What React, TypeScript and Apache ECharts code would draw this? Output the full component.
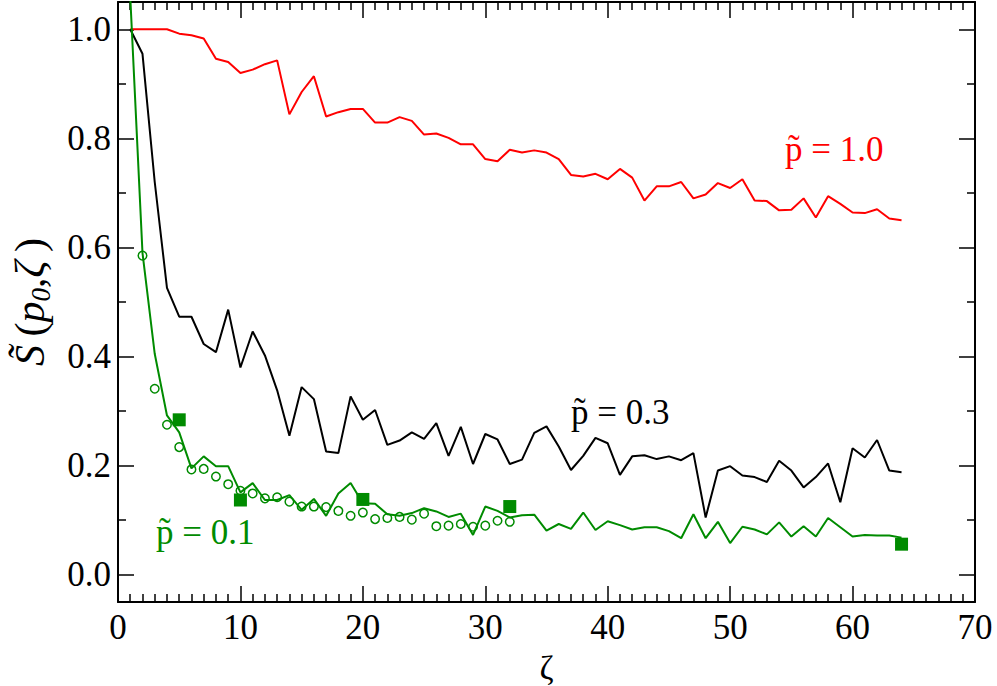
import React, { useEffect, useRef } from "react";
import * as echarts from "echarts";

const zeta = [
  1, 2, 3, 4, 5, 6, 7, 8, 9, 10, 11, 12, 13, 14, 15, 16, 17, 18, 19, 20, 21, 22,
  23, 24, 25, 26, 27, 28, 29, 30, 31, 32, 33, 34, 35, 36, 37, 38, 39, 40, 41, 42,
  43, 44, 45, 46, 47, 48, 49, 50, 51, 52, 53, 54, 55, 56, 57, 58, 59, 60, 61, 62,
  63, 64,
];

// p~ = 1.0 (red)
const sRed = [
  1.0, 1.0, 1.0, 1.0, 0.992, 0.989, 0.983, 0.946, 0.94, 0.92, 0.926, 0.936, 0.943,
  0.844, 0.885, 0.914, 0.84, 0.848, 0.854, 0.854, 0.829, 0.829, 0.839, 0.832,
  0.807, 0.809, 0.801, 0.789, 0.789, 0.762, 0.758, 0.779, 0.774, 0.778, 0.774,
  0.762, 0.733, 0.73, 0.735, 0.725, 0.744, 0.728, 0.686, 0.712, 0.712, 0.72, 0.69,
  0.697, 0.718, 0.709, 0.725, 0.686, 0.685, 0.668, 0.669, 0.69, 0.655, 0.694,
  0.68, 0.664, 0.663, 0.67, 0.653, 0.65,
];

// p~ = 0.3 (black)
const sBlack = [
  1.0, 0.955, 0.72, 0.526, 0.473, 0.473, 0.423, 0.408, 0.486, 0.38, 0.446, 0.402,
  0.338, 0.255, 0.344, 0.322, 0.226, 0.223, 0.327, 0.284, 0.302, 0.238, 0.246,
  0.261, 0.249, 0.278, 0.218, 0.271, 0.203, 0.258, 0.248, 0.203, 0.211, 0.26,
  0.272, 0.235, 0.192, 0.218, 0.251, 0.241, 0.183, 0.217, 0.219, 0.212, 0.217,
  0.21, 0.223, 0.105, 0.191, 0.199, 0.182, 0.179, 0.17, 0.209, 0.191, 0.16, 0.179,
  0.204, 0.133, 0.232, 0.215, 0.247, 0.191, 0.188,
];

// p~ = 0.1 (green line)
const sGreen = [
  1.06, 0.59, 0.405, 0.292, 0.261, 0.195, 0.217, 0.199, 0.199, 0.151, 0.168, 0.137,
  0.137, 0.146, 0.119, 0.139, 0.108, 0.149, 0.168, 0.131, 0.13, 0.111, 0.108,
  0.113, 0.122, 0.116, 0.106, 0.112, 0.073, 0.125, 0.117, 0.105, 0.109, 0.11,
  0.081, 0.093, 0.084, 0.114, 0.082, 0.098, 0.091, 0.083, 0.087, 0.087, 0.08,
  0.067, 0.111, 0.067, 0.097, 0.058, 0.088, 0.083, 0.074, 0.096, 0.07, 0.089,
  0.07, 0.104, 0.087, 0.07, 0.073, 0.072, 0.072, 0.068,
];

// open green circles
const circleZeta = [
  2, 3, 4, 5, 6, 7, 8, 9, 10, 11, 12, 13, 14, 15, 16, 17, 18, 19, 20, 21, 22, 23,
  24, 25, 26, 27, 28, 29, 30, 31, 32,
];
const circleS = [
  0.585, 0.341, 0.275, 0.234, 0.193, 0.194, 0.18, 0.166, 0.154, 0.149, 0.14, 0.142,
  0.134, 0.125, 0.125, 0.124, 0.117, 0.108, 0.114, 0.102, 0.104, 0.106, 0.101,
  0.112, 0.089, 0.09, 0.093, 0.088, 0.09, 0.099, 0.097,
];

// filled green squares
const squareZeta = [5, 10, 20, 32, 64];
const squareS = [0.284, 0.137, 0.138, 0.125, 0.056];

const yMajor = [0, 0.2, 0.4, 0.6, 0.8, 1.0];
const yMinor = [0.1, 0.3, 0.5, 0.7, 0.9];

const FONT = "Liberation Serif";
const GREEN = "#008b00";
const RED = "#ff0000";

export default function App() {
  const ref = useRef<HTMLDivElement>(null);

  useEffect(() => {
    document.body.style.margin = "0";
    const chart = echarts.init(ref.current!, null, { renderer: "svg" });
    const pairs = (xs: number[], ys: number[]) => xs.map((x, i) => [x, ys[i]]);
    const tickLine = { color: "#000", width: 1.5 };
    const axisLine = {
      show: true,
      onZero: false,
      lineStyle: { color: "#000", width: 2 },
    };

    const xBase: any = {
      type: "value",
      min: 0,
      max: 70,
      interval: 10,
      axisLine,
      axisTick: { show: true, inside: true, length: 16, lineStyle: tickLine },
      minorTick: { show: true, splitNumber: 10, length: 8, lineStyle: tickLine },
      splitLine: { show: false },
      minorSplitLine: { show: false },
    };

    const yBase: any = {
      type: "value",
      min: -0.05,
      max: 1.05,
      splitLine: { show: false },
      axisLabel: { show: false },
      axisLine: { show: false, onZero: false },
    };

    chart.setOption({
      animation: false,
      backgroundColor: "#fff",
      textStyle: { fontFamily: FONT },
      grid: {
        left: 118,
        right: 22,
        top: 2,
        bottom: 84,
        containLabel: false,
        outerBoundsMode: "none",
      },
      xAxis: [
        {
          ...xBase,
          position: "bottom",
          axisLabel: {
            show: true,
            fontSize: 35,
            fontFamily: FONT,
            color: "#000",
            margin: 8,
          },
          name: "ζ",
          nameLocation: "middle",
          nameGap: 44,
          nameTextStyle: {
            fontSize: 34,
            fontFamily: FONT,
            color: "#000",
            lineHeight: 36,
          },
        },
        { ...xBase, position: "top", axisLabel: { show: false } },
      ],
      yAxis: [
        {
          ...yBase,
          position: "left",
          axisLine,
          axisTick: {
            show: true,
            inside: true,
            length: 16,
            lineStyle: tickLine,
            customValues: yMajor,
          },
          axisLabel: {
            show: true,
            customValues: yMajor,
            formatter: (v: number) => v.toFixed(1),
            fontSize: 35,
            fontFamily: FONT,
            color: "#000",
            margin: 7,
          },
          name: "{i|S\u0303}{n|\u2009(}{i|p}{s|0}{n|,}{i|ζ}{n|\u2009)}",
          nameLocation: "middle",
          nameRotate: 90,
          nameGap: 64,
          nameTextStyle: {
            fontFamily: FONT,
            color: "#000",
            rich: {
              i: { fontSize: 42, fontStyle: "italic", fontFamily: FONT, lineHeight: 48 },
              n: { fontSize: 42, fontFamily: FONT, lineHeight: 48 },
              s: {
                fontSize: 27,
                fontStyle: "italic",
                fontFamily: FONT,
                lineHeight: 27,
                verticalAlign: "bottom",
              },
            },
          },
        },
        {
          ...yBase,
          position: "left",
          axisTick: {
            show: true,
            inside: true,
            length: 8,
            lineStyle: tickLine,
            customValues: yMinor,
          },
        },
        {
          ...yBase,
          position: "right",
          axisLine,
          axisTick: {
            show: true,
            inside: true,
            length: 16,
            lineStyle: tickLine,
            customValues: yMajor,
          },
        },
        {
          ...yBase,
          position: "right",
          axisTick: {
            show: true,
            inside: true,
            length: 8,
            lineStyle: tickLine,
            customValues: yMinor,
          },
        },
      ],
      series: [
        {
          name: "p~ = 1.0",
          type: "line",
          data: pairs(zeta, sRed),
          symbol: "none",
          lineStyle: { color: RED, width: 2 },
          itemStyle: { color: RED },
          clip: true,
        },
        {
          name: "p~ = 0.3",
          type: "line",
          data: pairs(zeta, sBlack),
          symbol: "none",
          lineStyle: { color: "#000", width: 2 },
          itemStyle: { color: "#000" },
          clip: true,
        },
        {
          name: "p~ = 0.1",
          type: "line",
          data: pairs(zeta, sGreen),
          symbol: "none",
          lineStyle: { color: GREEN, width: 2 },
          itemStyle: { color: GREEN },
          clip: true,
        },
        {
          name: "circles",
          type: "scatter",
          data: pairs(circleZeta, circleS),
          symbol: "circle",
          symbolSize: 8.5,
          itemStyle: {
            color: "transparent",
            borderColor: GREEN,
            borderWidth: 1.5,
            opacity: 1,
          },
        },
        {
          name: "squares",
          type: "scatter",
          data: pairs(squareZeta, squareS),
          symbol: "rect",
          symbolSize: 13,
          itemStyle: { color: GREEN, opacity: 1 },
        },
      ],
      graphic: [
        {
          type: "text",
          x: 785,
          y: 149,
          style: {
            text: "p\u0303 = 1.0",
            fill: RED,
            fontSize: 35,
            fontFamily: FONT,
            verticalAlign: "middle",
          },
        },
        {
          type: "text",
          x: 571,
          y: 412,
          style: {
            text: "p\u0303 = 0.3",
            fill: "#000",
            fontSize: 35,
            fontFamily: FONT,
            verticalAlign: "middle",
          },
        },
        {
          type: "text",
          x: 156,
          y: 532,
          style: {
            text: "p\u0303 = 0.1",
            fill: GREEN,
            fontSize: 35,
            fontFamily: FONT,
            verticalAlign: "middle",
          },
        },
      ],
    });

    return () => chart.dispose();
  }, []);

  return <div ref={ref} style={{ width: 997, height: 686 }} />;
}
